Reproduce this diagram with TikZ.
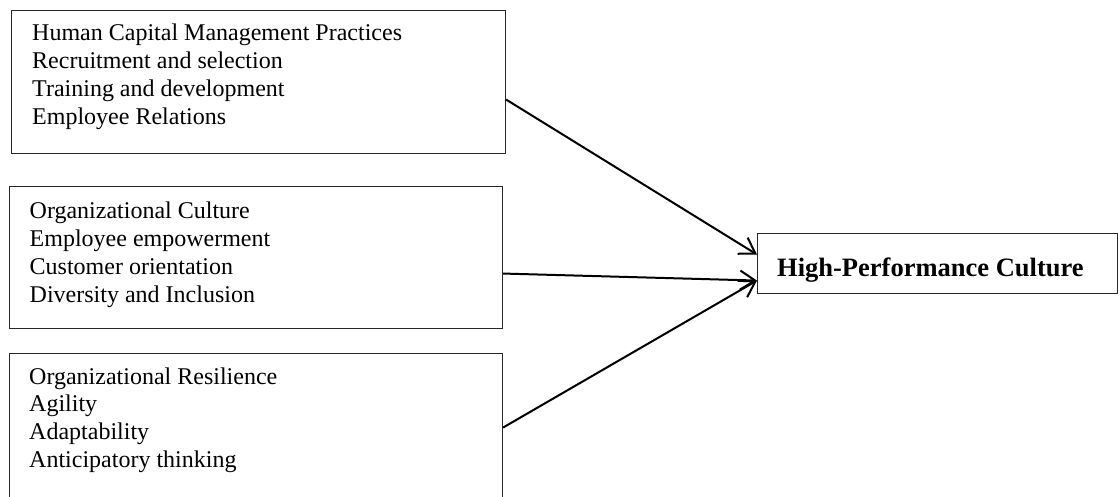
\documentclass[tikz,border=0pt]{standalone}
\usepackage{fontspec}
\setmainfont{Liberation Serif}
\usetikzlibrary{arrows.meta}
\tikzset{
  framebox/.style={draw=black!85, line width=1.1pt, inner sep=0pt, anchor=north west},
  listtext/.style={anchor=base west, inner sep=0pt, font=\fontsize{24}{27.7}\selectfont},
  linkarrow/.style={draw=black, line width=2pt, -{Straight Barb[length=15pt,width=19pt,line width=2pt]}}
}
\begin{document}
\begin{tikzpicture}[x=1pt,y=-1pt]
\useasboundingbox (0,0) rectangle (1120,497);
\clip (0,0) rectangle (1120,497);
% boxes
\node[framebox, minimum width=494pt, minimum height=143pt] (b1) at (11,10) {};
\node[framebox, minimum width=493.5pt, minimum height=142pt] (b2) at (8.5,186) {};
\node[framebox, minimum width=493pt, minimum height=167pt] (b3) at (9,353) {};
\node[framebox, minimum width=360pt, minimum height=60pt] (hpc) at (757,233) {};
% texts
\node[listtext] (t1) at (32,41) {\begin{tabular}[t]{@{}l@{}}Human Capital Management Practices\\Recruitment and selection\\Training and development\\Employee Relations\end{tabular}};
\node[listtext] (t2) at (29.5,219) {\begin{tabular}[t]{@{}l@{}}Organizational Culture\\Employee empowerment\\Customer orientation\\Diversity and Inclusion\end{tabular}};
\node[listtext] (t3) at (29,384) {\begin{tabular}[t]{@{}l@{}}Organizational Resilience\\Agility\\Adaptability\\Anticipatory thinking\end{tabular}};
\node[anchor=base west, inner sep=0pt, font=\fontsize{26.5}{30}\selectfont\bfseries] (th) at (777,277) {High-Performance Culture};
% arrows
\draw[linkarrow] ([yshift=-17.5pt]b1.east) -- ([yshift=9pt]hpc.west);
\draw[linkarrow] ([yshift=-16pt]b2.east) -- ([yshift=-17pt]hpc.west);
\draw[linkarrow] ([yshift=9.5pt]b3.east) -- ([yshift=-17pt]hpc.west);
\end{tikzpicture}
\end{document}
